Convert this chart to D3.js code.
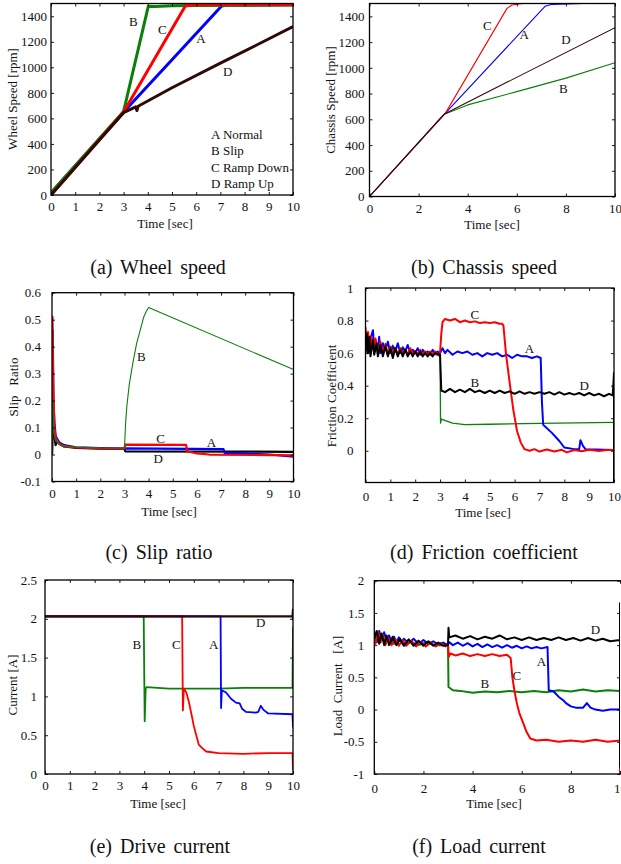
<!DOCTYPE html>
<html>
<head>
<meta charset="utf-8">
<script src="https://cdn.jsdelivr.net/npm/d3@7"></script>
<style>
  body { margin: 0; background: #fff; }
  text { font-family: "Liberation Serif", "Times New Roman", serif; fill: #111; }
</style>
</head>
<body>
<script>
// ---- data (time [sec], value) ----
var timeTicks1 = [0,1,2,3,4,5,6,7,8,9,10];
var timeTicks2 = [0,2,4,6,8,10];

// (a) wheel speed [rpm]
var wheelA = [[0,0],[0.05,25],[3,650],[5,1060],[7.05,1480],[7.3,1488],[10,1490]];
var wheelB = [[0,0],[0.05,30],[3,655],[4.02,1478],[4.3,1476],[5,1482],[6,1484],[10,1488]];
var wheelC = [[0,0],[3,650],[5.55,1480],[5.8,1490],[10,1492]];
var wheelD = [[0,0],[1,215],[2,430],[3,645],[3.5,690],[3.55,662],[3.6,695],[5,840],[7,1033],[8.5,1175],[10,1320]];

// (b) chassis speed [rpm]
var chassisA = [[0,0],[3.1,650],[7.15,1478],[7.4,1492],[8.7,1500],[10,1504]];
var chassisB = [[0,0],[3.05,640],[4,712],[6,815],[8,920],[10,1040]];
var chassisC = [[0,0],[3.1,650],[5.6,1462],[5.8,1488],[6.25,1500],[10,1506]];
var chassisD = [[0,0],[3.05,642],[10,1312]];

// (c) slip ratio
var slipA = [[0,0],[0.03,0.46],[0.06,0.2],[0.1,0.12],[0.15,0.07],[0.2,0.06],[0.3,0.045],[0.5,0.035],[1,0.027],[2,0.024],[3,0.022],[3.02,0.023],[7.1,0.02],[7.15,0.006],[8,0.004],[9,0.0],[10,-0.008]];
var slipB = [[0,0],[0.03,0.2],[0.07,0.08],[0.15,0.05],[0.3,0.04],[0.5,0.032],[1,0.027],[2,0.024],[3,0.023],[3.05,0.12],[3.1,0.18],[3.2,0.26],[3.35,0.34],[3.5,0.41],[3.65,0.46],[3.8,0.51],[3.9,0.53],[4,0.545],[10,0.315]];
var slipC = [[0,0],[0.02,0.51],[0.05,0.25],[0.1,0.1],[0.15,0.06],[0.3,0.04],[0.5,0.03],[1,0.026],[2,0.023],[3,0.022],[3.03,0.037],[5.55,0.036],[5.6,0.012],[6,0.004],[6.5,0.0],[10,-0.003]];
var slipD = [[0,0],[0.05,0.15],[0.1,0.07],[0.15,0.035],[0.2,0.05],[0.3,0.04],[0.5,0.03],[1,0.025],[2,0.022],[3,0.021],[3.03,0.012],[10,0.01]];

// (d) friction coefficient
var fricA = [[0,0.64],[0.1,0.71],[0.15,0.62],[0.2,0.69],[0.3,0.74],[0.35,0.63],[0.4,0.68],[0.5,0.62],[0.55,0.7],[0.6,0.6],[0.7,0.66],[0.8,0.62],[0.9,0.67],[1,0.6],[1.1,0.64],[1.2,0.61],[1.3,0.66],[1.4,0.6],[1.5,0.63],[1.6,0.61],[1.7,0.65],[1.8,0.6],[1.9,0.62],[2,0.6],[2.1,0.63],[2.2,0.59],[2.3,0.62],[2.4,0.6],[2.5,0.61],[2.6,0.59],[2.7,0.62],[2.8,0.6],[2.9,0.61],[3,0.6],
    [3.1,0.63],[3.2,0.6],[3.3,0.62],[3.5,0.59],[3.7,0.61],[3.9,0.6],[4.1,0.61],[4.3,0.59],[4.5,0.6],[4.7,0.58],[4.9,0.6],[5.1,0.59],[5.3,0.6],[5.5,0.58],[5.7,0.59],[5.9,0.57],[6.1,0.59],[6.3,0.58],[6.5,0.58],[6.7,0.57],[6.9,0.58],[7.05,0.57],
    [7.1,0.3],[7.15,0.16],[7.5,0.11],[7.8,0.06],[8,0.02],[8.4,0.01],[8.6,0.01],[8.65,0.065],[8.75,0.03],[8.85,0.01],[10,0.005]];
var fricB = [[0,0.65],[0.1,0.6],[0.2,0.7],[0.3,0.62],[0.4,0.67],[0.5,0.6],[0.6,0.65],[0.7,0.61],[0.8,0.66],[0.9,0.6],[1.1,0.65],[1.3,0.6],[1.5,0.64],[1.7,0.6],[1.9,0.62],[2.1,0.6],[2.4,0.61],[2.7,0.6],[3,0.58],
    [3.02,0.17],[3.05,0.195],[3.5,0.17],[4,0.16],[5,0.163],[7,0.168],[10,0.175]];
var fricC = [[0,0.76],[0.05,0.64],[0.1,0.73],[0.2,0.6],[0.25,0.7],[0.3,0.63],[0.4,0.69],[0.5,0.59],[0.6,0.67],[0.7,0.6],[0.8,0.65],[0.9,0.59],[1,0.64],[1.1,0.6],[1.2,0.63],[1.3,0.59],[1.4,0.63],[1.5,0.6],[1.6,0.62],[1.7,0.59],[1.8,0.63],[1.9,0.6],[2,0.61],[2.1,0.59],[2.2,0.62],[2.3,0.59],[2.4,0.61],[2.5,0.59],[2.6,0.61],[2.7,0.59],[2.8,0.61],[2.9,0.59],[3,0.6],
    [3.05,0.72],[3.1,0.79],[3.2,0.81],[3.4,0.8],[3.6,0.81],[3.8,0.79],[4,0.8],[4.2,0.79],[4.4,0.795],[4.6,0.785],[4.8,0.79],[5,0.785],[5.2,0.79],[5.4,0.78],[5.5,0.78],[5.55,0.77],
    [5.65,0.6],[5.8,0.42],[5.95,0.25],[6.1,0.12],[6.25,0.05],[6.4,0.01],[6.6,0.0],[6.8,0.01],[7,-0.005],[7.3,0.008],[7.6,-0.004],[7.9,0.006],[8.1,-0.01],[8.4,0.005],[8.7,-0.003],[9,0.006],[9.4,-0.002],[9.7,0.005],[10,0.005]];
var fricD = [[0,0.6],[0.05,0.72],[0.1,0.6],[0.15,0.7],[0.2,0.58],[0.3,0.68],[0.35,0.59],[0.45,0.66],[0.5,0.58],[0.6,0.65],[0.7,0.58],[0.8,0.64],[0.9,0.58],[1,0.63],[1.1,0.57],[1.2,0.63],[1.3,0.58],[1.4,0.62],[1.5,0.58],[1.6,0.62],[1.7,0.58],[1.8,0.61],[1.9,0.58],[2,0.61],[2.1,0.58],[2.2,0.61],[2.3,0.58],[2.4,0.6],[2.5,0.58],[2.6,0.6],[2.7,0.58],[2.8,0.6],[3,0.59],
    [3.05,0.37],[3.2,0.36],[3.4,0.38],[3.6,0.36],[3.8,0.375],[4,0.36],[4.2,0.38],[4.4,0.36],[4.6,0.37],[4.8,0.355],[5,0.37],[5.2,0.355],[5.4,0.37],[5.6,0.355],[5.8,0.365],[6,0.35],[6.2,0.365],[6.4,0.35],[6.6,0.36],[6.8,0.35],[7,0.36],[7.2,0.35],[7.4,0.36],[7.6,0.345],[7.8,0.36],[8,0.345],[8.2,0.355],[8.4,0.345],[8.6,0.355],[8.8,0.34],[9,0.355],[9.2,0.34],[9.4,0.35],[9.6,0.335],[9.8,0.35],[9.95,0.34],[10,0.48],[10,-0.2]];

// (e) drive current [A]
var driveA = [[0,2.03],[7.08,2.03],[7.1,0.85],[7.13,1.08],[7.3,1.05],[7.5,0.97],[7.7,0.92],[7.85,0.91],[7.95,0.84],[8.1,0.8],[8.5,0.79],[8.6,0.8],[8.7,0.88],[8.8,0.83],[9,0.78],[9.98,0.77],[10,0.6]];
var driveB = [[0,2.03],[3.98,2.03],[4.02,0.68],[4.06,1.1],[4.1,1.12],[5,1.1],[6,1.1],[7,1.1],[8,1.11],[9,1.11],[9.98,1.11],[10,1.9]];
var driveC = [[0,2.03],[5.53,2.03],[5.56,0.82],[5.6,1.1],[5.7,1.05],[5.8,0.93],[5.9,0.78],[6,0.62],[6.1,0.5],[6.2,0.38],[6.35,0.33],[6.5,0.29],[7,0.27],[8,0.26],[9,0.27],[9.98,0.27],[10,0.05]];
var driveD = [[0,2.03],[9.98,2.03],[10,2.12],[10,1.98]];

// (f) load current [A]
var loadA = [[0,1.18],[0.1,1.05],[0.2,1.22],[0.3,1.08],[0.4,1.2],[0.5,1.06],[0.6,1.15],[0.7,1.05],[0.8,1.13],[0.9,1.04],[1,1.12],[1.1,1.03],[1.2,1.1],[1.4,1.03],[1.6,1.1],[1.8,1.02],[2,1.08],[2.2,1.02],[2.4,1.06],[2.6,1.01],[2.8,1.04],[3,1.0],
    [3.03,1.05],[3.2,1.0],[3.4,1.04],[3.6,0.99],[3.8,1.03],[4,0.98],[4.2,1.02],[4.4,0.97],[4.6,1.01],[4.8,0.97],[5,1.0],[5.2,0.96],[5.4,1.0],[5.6,0.96],[5.8,0.99],[6,0.95],[6.2,0.98],[6.4,0.95],[6.6,0.97],[6.8,0.95],[7.05,0.97],
    [7.1,0.3],[7.3,0.28],[7.5,0.2],[7.7,0.14],[7.8,0.1],[8,0.05],[8.2,0.03],[8.5,0.03],[8.65,0.1],[8.8,0.03],[9,0.0],[9.3,-0.02],[9.6,0.0],[10,0.0]];
var loadB = [[0,1.15],[0.15,1.05],[0.3,1.15],[0.45,1.04],[0.6,1.1],[0.8,1.02],[1,1.08],[1.2,1.01],[1.5,1.05],[1.8,1.0],[2.1,1.04],[2.5,1.0],[3,1.0],
    [3.02,0.35],[3.2,0.3],[3.5,0.29],[4,0.26],[4.5,0.28],[5,0.27],[5.5,0.29],[6,0.27],[6.5,0.29],[7,0.27],[7.5,0.3],[8,0.28],[8.5,0.31],[9,0.28],[9.5,0.3],[10,0.29]];
var loadC = [[0,1.22],[0.05,1.02],[0.15,1.2],[0.25,1.04],[0.35,1.16],[0.45,1.0],[0.55,1.12],[0.7,1.0],[0.85,1.1],[1,0.99],[1.15,1.08],[1.3,0.99],[1.5,1.07],[1.7,0.98],[1.9,1.05],[2.1,0.98],[2.3,1.04],[2.5,0.98],[2.7,1.03],[2.9,0.98],[3,1.02],
    [3.03,0.82],[3.1,0.87],[3.3,0.84],[3.6,0.87],[3.9,0.83],[4.2,0.86],[4.5,0.83],[4.8,0.86],[5.1,0.83],[5.4,0.85],[5.55,0.8],
    [5.62,0.5],[5.7,0.3],[5.8,0.1],[5.9,-0.05],[6.05,-0.2],[6.2,-0.35],[6.35,-0.45],[6.6,-0.48],[7,-0.47],[7.5,-0.5],[8,-0.48],[8.5,-0.5],[9,-0.47],[9.5,-0.5],[10,-0.48],[10,-0.16],[10,-1]];
var loadD = [[0,1.1],[0.1,1.22],[0.2,1.02],[0.3,1.18],[0.4,1.0],[0.5,1.15],[0.6,1.0],[0.75,1.13],[0.9,1.0],[1.05,1.1],[1.2,0.99],[1.4,1.09],[1.6,0.99],[1.8,1.07],[2,0.99],[2.2,1.06],[2.4,0.99],[2.6,1.04],[2.8,0.99],[3,1.0],
    [3.02,1.27],[3.05,1.12],[3.3,1.15],[3.6,1.1],[3.9,1.14],[4.2,1.09],[4.5,1.13],[4.8,1.1],[5.1,1.15],[5.4,1.09],[5.7,1.12],[6,1.08],[6.3,1.12],[6.6,1.08],[6.9,1.11],[7.2,1.08],[7.5,1.12],[7.8,1.08],[8.1,1.11],[8.4,1.07],[8.7,1.11],[9,1.07],[9.3,1.1],[9.6,1.06],[10,1.08],[10,1.65],[10,-0.9]];

// curve labels [letter, t, value]
var wheelLabels = [["B",3.4,1360],["C",4.6,1300],["A",6.2,1230],["D",7.3,970]];
var chassisLabels = [["C",4.8,1330],["A",6.3,1260],["D",8,1220],["B",7.9,840]];
var slipLabels = [["B",3.7,0.365],["C",4.5,0.06],["A",6.6,0.045],["D",4.4,-0.013]];
var fricLabels = [["C",4.4,0.84],["A",6.6,0.63],["B",4.4,0.42],["D",8.8,0.4]];
var driveLabels = [["B",3.7,1.67],["C",5.3,1.67],["A",6.8,1.67],["D",8.7,1.95]];
var loadLabels = [["D",9,1.24],["A",6.8,0.75],["C",5.8,0.53],["B",4.5,0.4]];
var legendLines = ["A Normal","B Slip","C Ramp Down","D Ramp Up"];

var cBlue = "#0000ff", cRed = "#ff0000", cGreen = "#0a800a", cBlack = "#000000", cBrown = "#2e0a06";

var svg = d3.select("body").append("svg").attr("width", 621).attr("height", 864);

function fmt(v){ return String(+v.toFixed(1)); }

function drawPanel(p){
    var x = d3.scaleLinear().domain([0,10]).range([p.L, p.R]);
    var y = d3.scaleLinear().domain(p.yDomain).range([p.B, p.T]);
    var g = svg.append("g");
    svg.append("clipPath").attr("id","clip-"+p.key)
        .append("rect").attr("x",p.L).attr("y",p.T).attr("width",p.R-p.L).attr("height",p.B-p.T);

    var line = d3.line().x(function(d){return x(d[0]);}).y(function(d){return y(d[1]);});
    var lg = g.append("g").attr("clip-path","url(#clip-"+p.key+")");
    p.series.forEach(function(s){
        lg.append("path").attr("d", line(s.data))
            .attr("fill","none").attr("stroke", s.color)
            .attr("stroke-width", s.width).attr("stroke-linejoin","round");
    });

    // axes, ticks inward on all four sides
    function clean(a){
        a.select(".domain").remove();
        a.attr("font-family",null).attr("font-size",null);
        a.selectAll("line").attr("stroke","#000").attr("stroke-width",0.9);
        a.selectAll("text").style("font-size","13px").attr("fill","#111");
    }
    g.append("g").attr("transform","translate(0,"+p.B+")")
        .call(d3.axisBottom(x).tickValues(p.xTicks).tickSize(-3).tickPadding(p.xPad).tickFormat(fmt))
        .call(clean);
    g.append("g").attr("transform","translate(0,"+p.T+")")
        .call(d3.axisTop(x).tickValues(p.xTicks).tickSize(-3).tickFormat(""))
        .call(clean);
    g.append("g").attr("transform","translate("+p.L+",0)")
        .call(d3.axisLeft(y).tickValues(p.yTicks).tickSize(-3).tickPadding(p.yPad).tickFormat(fmt))
        .call(clean);
    g.append("g").attr("transform","translate("+p.R+",0)")
        .call(d3.axisRight(y).tickValues(p.yTicks).tickSize(-3).tickFormat(""))
        .call(clean);

    g.append("rect").attr("x",p.L).attr("y",p.T)
        .attr("width",(p.frameR || p.R)-p.L).attr("height",p.B-p.T)
        .attr("fill","none").attr("stroke","#000").attr("stroke-width",1.3);

    g.selectAll(".curve-label").data(p.labels).enter().append("text")
        .attr("x",function(d){return x(d[1]);}).attr("y",function(d){return y(d[2]);})
        .attr("text-anchor","middle").attr("dy","0.35em")
        .style("font-size","13px").text(function(d){return d[0];});

    g.append("text").attr("x",p.timeX).attr("y",p.timeY).attr("dy","0.35em")
        .attr("text-anchor","middle").style("font-size","13px").text("Time [sec]");
    g.append("text").attr("transform","translate("+p.yLabX+","+p.yLabY+") rotate(-90)")
        .attr("text-anchor","middle").attr("dy","0.35em")
        .style("font-size","13px").style("white-space","pre").text(p.yLabel);
    g.append("text").attr("x",p.capX).attr("y",p.capY).attr("dy","0.35em")
        .attr("text-anchor","middle").style("font-size","20px").style("word-spacing","3px")
        .text(p.caption);
    return {x:x, y:y, g:g};
}

var yTicksSpeed = [0,200,400,600,800,1000,1200,1400];
var yTicksSlip = [-0.1,0,0.1,0.2,0.3,0.4,0.5,0.6];
var yTicksFric = [0,0.2,0.4,0.6,0.8,1];
var yTicksDrive = [0,0.5,1,1.5,2,2.5];
var yTicksLoad = [-1,-0.5,0,0.5,1,1.5,2];

var pa = drawPanel({key:"a", L:51, R:293, T:3.5, B:195, yDomain:[0,1500], xTicks:timeTicks1, yTicks:yTicksSpeed,
    xPad:7, yPad:4, timeX:165, timeY:223, yLabX:12, yLabY:99, yLabel:"Wheel Speed [rpm]",
    capX:158, capY:267, caption:"(a) Wheel speed", labels:wheelLabels,
    series:[{data:wheelA,color:cBlue,width:3},{data:wheelB,color:cGreen,width:3},
            {data:wheelC,color:cRed,width:3},{data:wheelD,color:cBrown,width:3}]});

// legend text in panel (a)
pa.g.selectAll(".legend").data(legendLines).enter().append("text")
    .attr("x",211).attr("y",function(d,i){return 134 + i*16.5;}).attr("dy","0.35em")
    .style("font-size","13px").text(function(d){return d;});

drawPanel({key:"b", L:369.5, R:615, T:3.5, B:196.5, yDomain:[0,1500], xTicks:timeTicks2, yTicks:yTicksSpeed,
    xPad:7.5, yPad:5, timeX:492, timeY:224, yLabX:330, yLabY:100, yLabel:"Chassis Speed [rpm]",
    capX:484, capY:267, caption:"(b) Chassis speed", labels:chassisLabels,
    series:[{data:chassisB,color:cGreen,width:1.1},{data:chassisA,color:cBlue,width:1.1},
            {data:chassisC,color:cRed,width:1.1},{data:chassisD,color:cBrown,width:1.1}]});

drawPanel({key:"c", L:52, R:293.5, T:292.7, B:481.5, yDomain:[-0.1,0.6], xTicks:timeTicks1, yTicks:yTicksSlip,
    xPad:7, yPad:11, timeX:169, timeY:511, yLabX:13, yLabY:387, yLabel:"Slip   Ratio",
    capX:159, capY:552, caption:"(c) Slip ratio", labels:slipLabels,
    series:[{data:slipD,color:cBlack,width:2.2},{data:slipA,color:cBlue,width:2.2},
            {data:slipC,color:cRed,width:2.2},{data:slipB,color:cGreen,width:1.1}]});

drawPanel({key:"d", L:365.5, R:614, T:288, B:482.5, yDomain:[-0.195,1], xTicks:timeTicks1, yTicks:yTicksFric,
    xPad:9, yPad:12, timeX:483, timeY:512, yLabX:331, yLabY:396, yLabel:"Friction Coefficient",
    capX:484, capY:552, caption:"(d) Friction coefficient", labels:fricLabels,
    series:[{data:fricB,color:cGreen,width:1.3},{data:fricA,color:cBlue,width:2},
            {data:fricC,color:cRed,width:2},{data:fricD,color:cBlack,width:2}]});

drawPanel({key:"e", L:45, R:293, T:580, B:774, yDomain:[0,2.5], xTicks:timeTicks1, yTicks:yTicksDrive,
    xPad:7, yPad:8, timeX:158, timeY:803, yLabX:12, yLabY:685, yLabel:"Current [A]",
    capX:160, capY:846, caption:"(e) Drive current", labels:driveLabels,
    series:[{data:driveB,color:cGreen,width:1.8},{data:driveC,color:cRed,width:1.8},
            {data:driveA,color:cBlue,width:1.8},{data:driveD,color:cBrown,width:2.2}]});

drawPanel({key:"f", L:374.3, R:620, frameR:623, T:580.7, B:774, yDomain:[-1,2], xTicks:timeTicks2, yTicks:yTicksLoad,
    xPad:9.5, yPad:10, timeX:494, timeY:803, yLabX:337, yLabY:686, yLabel:"Load  Current   [A]",
    capX:479, capY:846, caption:"(f) Load current", labels:loadLabels,
    series:[{data:loadB,color:cGreen,width:2},{data:loadA,color:cBlue,width:2},
            {data:loadC,color:cRed,width:2},{data:loadD,color:cBlack,width:2}]});
</script>
</body>
</html>
